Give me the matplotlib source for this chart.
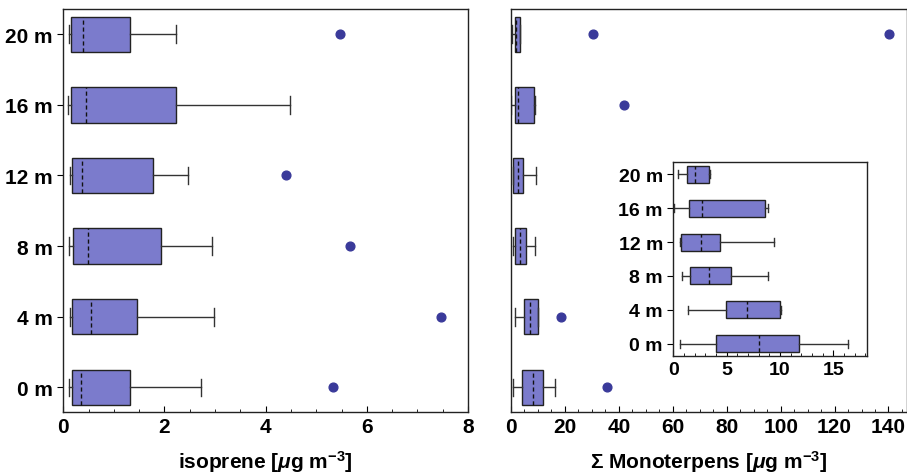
import numpy as np
import matplotlib.pyplot as plt
from matplotlib.ticker import MultipleLocator

plt.rcParams['font.family'] = ['Liberation Sans', 'DejaVu Sans']
plt.rcParams['font.weight'] = 'bold'
plt.rcParams['axes.labelweight'] = 'bold'
plt.rcParams['mathtext.fontset'] = 'custom'
plt.rcParams['mathtext.rm'] = 'Liberation Sans:bold'
plt.rcParams['mathtext.it'] = 'Liberation Sans:bold:italic'
plt.rcParams['mathtext.bf'] = 'Liberation Sans:bold'

heights = ['0 m', '4 m', '8 m', '12 m', '16 m', '20 m']

# isoprene stats per height (0 m ... 20 m)
iso_lo = [0.12, 0.14, 0.12, 0.14, 0.09, 0.11]
iso_q1 = [0.18, 0.17, 0.20, 0.18, 0.16, 0.15]
iso_med = [0.34, 0.54, 0.49, 0.36, 0.45, 0.38]
iso_q3 = [1.32, 1.45, 1.93, 1.78, 2.23, 1.32]
iso_hi = [2.73, 2.98, 2.94, 2.46, 4.48, 2.23]
iso_out = [[5.34], [7.46], [5.67], [4.41], [], [5.46]]

# monoterpene stats per height
mt_lo = [0.62, 1.34, 0.81, 0.62, 0.06, 0.47]
mt_q1 = [4.0, 4.94, 1.56, 0.69, 1.5, 1.31]
mt_med = [8.03, 6.94, 3.38, 2.56, 2.72, 2.03]
mt_q3 = [11.8, 10.0, 5.38, 4.4, 8.56, 3.38]
mt_hi = [16.34, 10.06, 8.88, 9.44, 8.88, 3.45]
mt_out = [[35.7], [18.4], [], [], [41.8], [30.5, 140.3]]

box_col = '#7b7bcc'
pt_col = '#3a3a9a'


def stats(lo, q1, med, q3, hi, out):
    return [dict(whislo=a, q1=b, med=c, q3=d, whishi=e, fliers=f)
            for a, b, c, d, e, f in zip(lo, q1, med, q3, hi, out)]


def draw(ax, st, ms):
    pos = np.arange(len(heights))
    ax.bxp(st, positions=pos, widths=0.5, vert=False, patch_artist=True,
           capwidths=0.25,
           boxprops=dict(facecolor=box_col, edgecolor='#222222', linewidth=1.0),
           medianprops=dict(color='#111111', linestyle=(0, (3, 2)), linewidth=1.0),
           whiskerprops=dict(color='#333333', linewidth=1.0),
           capprops=dict(color='#333333', linewidth=1.0),
           flierprops=dict(marker='o', markerfacecolor=pt_col, markeredgecolor=pt_col,
                           markersize=ms, linestyle='none'))
    ax.set_ylim(-0.35, 5.35)
    ax.tick_params(axis='x', which='major', direction='in', length=4, width=0.8)
    ax.tick_params(axis='x', which='minor', direction='in', length=2, width=0.6)


fig = plt.figure(figsize=(9.07, 4.77), dpi=100)

ax1 = fig.add_axes([0.0698, 0.134, 0.4462, 0.844])
draw(ax1, stats(iso_lo, iso_q1, iso_med, iso_q3, iso_hi, iso_out), 6.3)
ax1.set_xlim(0, 8)
ax1.xaxis.set_major_locator(MultipleLocator(2))
ax1.xaxis.set_minor_locator(MultipleLocator(0.5))
ax1.set_yticks(np.arange(len(heights)))
ax1.set_yticklabels(heights)
ax1.tick_params(axis='y', direction='out', length=4, width=0.8)
ax1.tick_params(labelsize=15)
ax1.set_xlabel(r'isoprene [$\mu$g m$^{-3}$]', fontsize=15, fontweight='bold', labelpad=9)

ax2 = fig.add_axes([0.5634, 0.134, 0.4361, 0.844])
draw(ax2, stats(mt_lo, mt_q1, mt_med, mt_q3, mt_hi, mt_out), 6.3)
ax2.set_xlim(0, 146.7)
ax2.xaxis.set_major_locator(MultipleLocator(20))
ax2.xaxis.set_minor_locator(MultipleLocator(5))
ax2.set_yticks([])
ax2.tick_params(labelsize=15)
ax2.set_xlabel(r'$\Sigma$ Monoterpens [$\mu$g m$^{-3}$]', fontsize=15, fontweight='bold', labelpad=9)

ax3 = fig.add_axes([0.7424, 0.2522, 0.2139, 0.4054])
draw(ax3, stats(mt_lo, mt_q1, mt_med, mt_q3, mt_hi, [[] for _ in heights]), 5)
ax3.set_xlim(0, 18.2)
ax3.xaxis.set_major_locator(MultipleLocator(5))
ax3.xaxis.set_minor_locator(MultipleLocator(1))
ax3.set_yticks(np.arange(len(heights)))
ax3.set_yticklabels(heights)
ax3.tick_params(axis='y', direction='out', length=4, width=0.8)
ax3.tick_params(labelsize=14)

for ax in (ax1, ax2, ax3):
    for s in ax.spines.values():
        s.set_linewidth(1.0)
        s.set_color('#222222')
    for lab in ax.get_xticklabels() + ax.get_yticklabels():
        lab.set_fontweight('bold')

fig.savefig('out.png', dpi=100)
